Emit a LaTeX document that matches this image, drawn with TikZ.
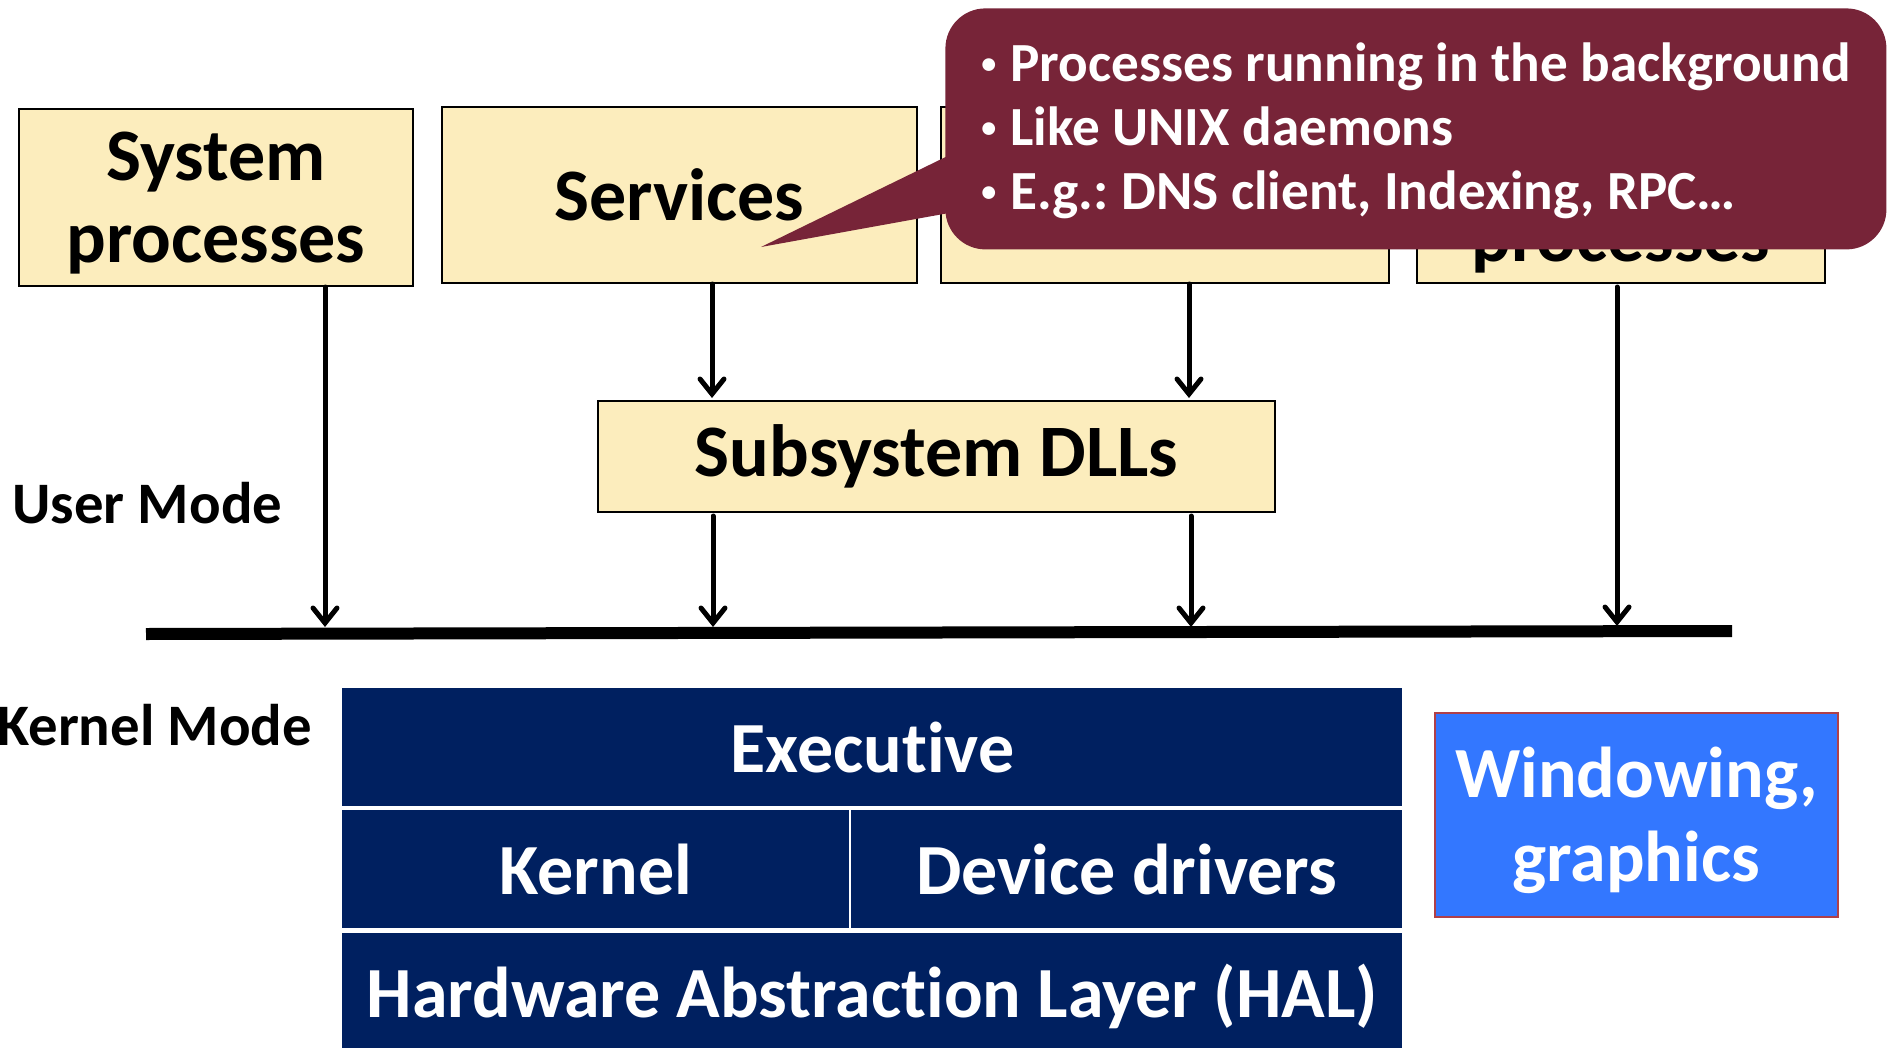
\documentclass[tikz,border=0pt]{standalone}
\usepackage{fontspec}
\setmainfont{Carlito}[Ligatures=NoCommon]
\usetikzlibrary{arrows.meta}
\frenchspacing

\definecolor{boxyellow}{RGB}{252,237,189}
\definecolor{navyblock}{RGB}{0,32,96}
\definecolor{winblue}{RGB}{51,119,255}
\definecolor{winedge}{RGB}{176,64,72}
\definecolor{notecolor}{RGB}{119,36,56}

\tikzset{
  procbox/.style={draw=black, line width=1pt, fill=boxyellow, inner sep=0pt,
    anchor=north west, align=center, font=\bfseries\fontsize{37}{41}\selectfont},
  boxtext/.style={inner sep=0pt, align=center, font=\bfseries\fontsize{37}{41}\selectfont},
  kblock/.style={fill=navyblock, draw=none, inner sep=0pt, anchor=north west,
    text=white, font=\bfseries\fontsize{36}{42}\selectfont},
  winbox/.style={fill=winblue, draw=winedge, line width=0.8pt, inner sep=0pt,
    anchor=north west},
  wintext/.style={inner sep=0pt, text=white, align=center,
    font=\bfseries\fontsize{36}{42}\selectfont},
  modelabel/.style={anchor=west, inner sep=0pt, font=\bfseries\fontsize{29.4}{34}\selectfont},
  arr/.style={line width=2.5pt, line cap=round,
    -{Straight Barb[length=7.5pt,width=12pt,line cap=round]}},
  notebody/.style={fill=notecolor, draw=none, rounded corners=20pt, inner sep=0pt,
    anchor=north west},
  noteline/.style={anchor=base west, inner sep=0pt, text=white,
    font=\bfseries\fontsize{27.6}{32}\selectfont},
}

\newcommand{\notebullet}{\makebox[14.5pt][l]{\raisebox{4pt}{\fontsize{15}{15}\selectfont •}}}

\begin{document}
\begin{tikzpicture}[x=0.5pt,y=-0.5pt]
\useasboundingbox (0,0) rectangle (1888,1048);

% user-mode process boxes
\node[procbox, minimum width=197pt, minimum height=88.5pt] (sys) at (18,108) {};
\node[boxtext] (systxt) at ([yshift=-3pt]sys.center) {System\\processes};
\node[procbox, minimum width=237.5pt, minimum height=88pt] (srv) at (441,106) {Services};
\node[procbox, minimum width=224pt, minimum height=88pt] (app) at (940,106) {};
\node[procbox, minimum width=204pt, minimum height=88pt] (env) at (1416,106) {};
\node[boxtext, anchor=base] (envtxt) at (1621,262) {processes};
\node[procbox, minimum width=338.5pt, minimum height=55.5pt] (dll) at (597,400) {Subsystem DLLs};

% mode labels
\node[modelabel] (user) at (12,503) {User Mode};
\node[modelabel] (kmode) at (-3,725) {Kernel Mode};

% user/kernel boundary
\coordinate (barL) at (146,634);
\coordinate (barR) at (1732,631);
\draw[line width=6pt] (barL) -- (barR);

\coordinate (b1) at (325,627);
\coordinate (b2) at (713,627);
\coordinate (b3) at (1191,627);
\coordinate (b4) at (1617,626);
\coordinate (t1) at (712,0);
\coordinate (t2) at (1189,0);

% calls down to the subsystem DLLs and into the kernel
\draw[arr] (sys.south -| b1) -- (b1);
\draw[arr] (srv.south -| t1) -- ([yshift=1pt]dll.north -| t1);
\draw[arr] (app.south -| t2) -- ([yshift=1pt]dll.north -| t2);
\draw[arr, shorten <=1.5pt] (dll.south -| b2) -- (b2);
\draw[arr, shorten <=1.5pt] (dll.south -| b3) -- (b3);
\draw[arr, shorten <=1.5pt] (env.south -| b4) -- (b4);

% kernel-mode layers
\node[kblock, minimum width=530pt, minimum height=59pt] (exec) at (342,688) {Executive};
\node[kblock, minimum width=253.5pt, minimum height=59pt] (kern) at (342,810) {Kernel};
\node[kblock, minimum width=275.5pt, minimum height=59pt] (drv) at (851,810) {Device drivers};
\node[kblock, minimum width=530pt, minimum height=63pt] (hal) at (342,933) {Hardware Abstraction Layer (HAL)};
\node[winbox, minimum width=201.5pt, minimum height=102pt] (win) at (1434,712) {};
\node[wintext] (wintxt) at ([yshift=-3pt]win.center) {Windowing,\\graphics};

% callout about services
\coordinate (tip) at (761,247);
\node[notebody, minimum width=470.5pt, minimum height=120.5pt] (note) at (945,8) {};
\fill[notecolor] (960,150) -- (tip) -- (960,211) -- cycle;
\node[noteline] (n1) at (981,82) {\notebullet Processes running in the background};
\node[noteline] (n2) at (981,146) {\notebullet Like UNIX daemons};
\node[noteline] (n3) at (981,210) {\notebullet E.g.: DNS client, Indexing, RPC…};
\end{tikzpicture}
\end{document}
